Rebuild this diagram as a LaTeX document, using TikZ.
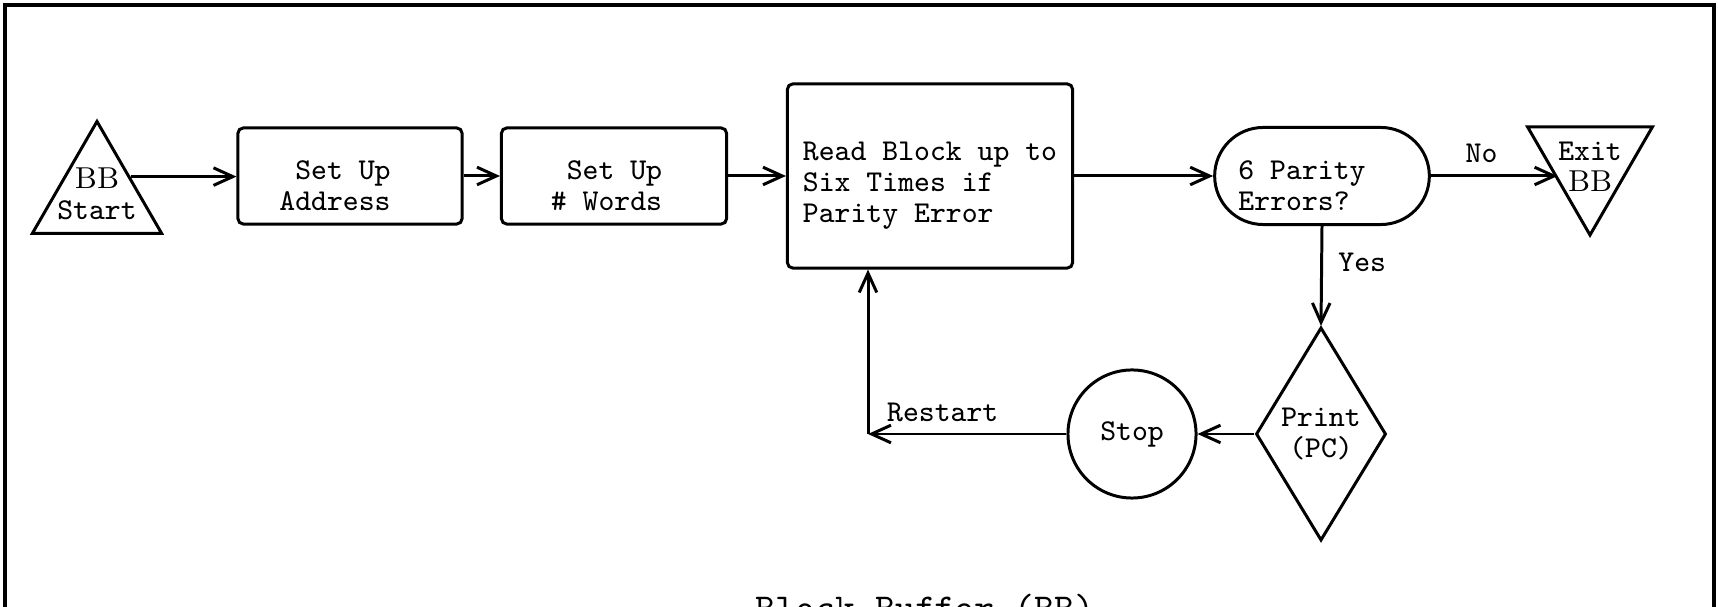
\documentclass[tikz,border=0pt]{standalone}
\usetikzlibrary{shapes.geometric,shapes.misc,arrows.meta,positioning}
\newcommand{\txtdrop}{\rule{0pt}{10.8pt}}
\begin{document}
\begin{tikzpicture}[x=0.01cm,y=-0.01cm,line width=0.85pt,
    >={Straight Barb[length=5.5pt,width=5pt]},
    every node/.style={font=\fontsize{8.6}{8.8}\selectfont\ttfamily},
    box/.style={draw,rectangle,rounded corners=1.5pt,inner sep=0pt},
    tri/.style={draw,regular polygon,regular polygon sides=3,inner sep=0pt}]
    \useasboundingbox (0,0) rectangle (1718,607);
    \draw [line width=1.1pt] (5,5) rectangle (1714,680); % frame, cut at the bottom
    \node [tri,minimum size=1.49cm] (start) at (97,196) {};
    \node [align=center] (starttext) at (97,194) {{\rmfamily BB}\\Start};
    \node [box,minimum width=2.24cm,minimum height=0.96cm,align=right] (addr) at (350,176) {\txtdrop Set Up\hspace*{0.3cm}\\Address\hspace*{0.3cm}};
    \node [box,minimum width=2.25cm,minimum height=0.96cm,align=right] (words) at (614,176) {\txtdrop Set Up\hspace*{0.15cm}\\\# Words\hspace*{0.15cm}};
    \node [box,minimum width=2.85cm,minimum height=1.84cm,align=left] (read) at (930,176) {\txtdrop Read Block up to\\Six Times if\\Parity Error};
    \node [draw,rounded rectangle,minimum width=2.38cm,minimum height=0.97cm,align=left] (parity) at (1322,176) {\txtdrop 6 Parity\hspace*{0.4cm}\\Errors?};
    \node [tri,shape border rotate=180,minimum size=1.44cm] (exit) at (1590,163) {};
    \node [align=center] (exittext) at (1590,167) {Exit\\{\rmfamily BB}};
    \node [draw,diamond,aspect=0.61,minimum width=1.30cm,minimum height=2.13cm,inner sep=0pt,align=center] (print) at (1321,434) {Print\\(PC)};
    \node [draw,circle,minimum size=1.28cm,inner sep=0pt] (stop) at (1132,434) {Stop};
    \coordinate (turn) at (868,434);
    % main line
    \draw [->] (start.side 3) -- (start.side 3 -| addr.west);
    \draw [->] (addr) -- (words);
    \draw [->] (words) -- (read);
    \draw [->] (read) -- (parity);
    \draw [->] (parity.east) -- (parity.east -| exit.side 3) node[pos=0.4,above=0pt] (no) {No};
    \draw [->] (parity.south) -- (print.north) node[pos=0.36,right=1pt] (yes) {Yes};
    % error loop
    \draw [->] (print.west) -- (stop.east);
    \draw [->] (stop.west) -- (turn);
    \draw [->] (turn) -- (turn |- read.south);
    \node [anchor=west] (restart) at (874,412) {Restart};
    \node [font=\fontsize{10.8}{12}\selectfont\ttfamily,anchor=base] (title) at (925,621) {Block Buffer (BB)};
\end{tikzpicture}
\end{document}
